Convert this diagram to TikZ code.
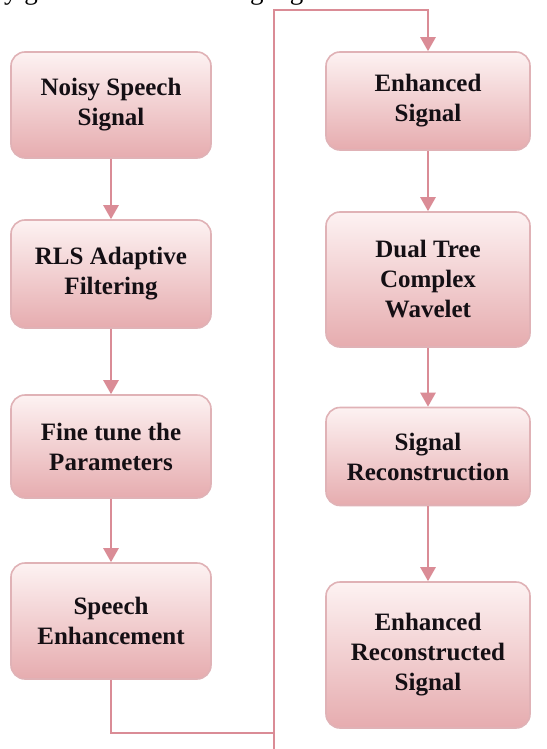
\documentclass[tikz,border=0pt]{standalone}
\usepackage{fontspec}
\setmainfont{Liberation Serif}
\usetikzlibrary{arrows.meta}
\definecolor{linkcol}{RGB}{218,140,150}
\definecolor{edgecol}{RGB}{224,178,182}
\definecolor{shadetop}{RGB}{253,242,242}
\definecolor{shadebot}{RGB}{230,172,175}
\definecolor{inkcol}{RGB}{20,15,20}
\tikzset{
  stage/.style={draw=edgecol, line width=1.6pt, rounded corners=14pt,
    top color=shadetop, bottom color=shadebot, text=inkcol,
    align=center, inner sep=0pt,
    font=\bfseries\fontsize{25}{30}\selectfont},
  leftstage/.style={stage, minimum width=200pt},
  rightstage/.style={stage, minimum width=204pt},
  link/.style={draw=linkcol, line width=2.6pt},
  arrowlink/.style={link, -{Triangle[width=15pt,length=14pt]}},
}
\begin{document}
\begin{tikzpicture}[x=1pt,y=-1pt]
  \useasboundingbox (0,0) rectangle (546,749);
  \clip (0,0) rectangle (546,749);
  \fill[white] (0,0) rectangle (546,749);

  % end of the running text line above the chart
  \node[anchor=base west, inner sep=0pt, font=\fontsize{27}{32}\selectfont]
    (runon) at (4,-0.5) {y given in the following algorithm};

  % left column
  \node[leftstage, minimum height=106pt] (noisy)   at (111,105)   {Noisy Speech\\Signal};
  \node[leftstage, minimum height=108pt] (rls)     at (111,274)   {RLS Adaptive\\Filtering};
  \node[leftstage, minimum height=103pt] (tune)    at (111,446.5) {Fine tune the\\Parameters};
  \node[leftstage, minimum height=116pt] (enh)     at (111,621)   {Speech\\Enhancement};

  % right column
  \node[rightstage, minimum height=98pt]  (esig)   at (428,101)   {Enhanced\\Signal};
  \node[rightstage, minimum height=135pt] (dtcw)   at (428,279.5) {Dual Tree\\Complex\\Wavelet};
  \node[rightstage, minimum height=98pt]  (recon)  at (428,456.5) {Signal\\Reconstruction};
  \node[rightstage, minimum height=146pt] (final)  at (428,655)   {Enhanced\\Reconstructed\\Signal};

  % crossover route between the columns
  \coordinate (joinpt) at (274,733);
  \coordinate (lowend) at (274,749);
  \coordinate (highpt) at (274,10);

  \draw[arrowlink] (noisy) -- (rls);
  \draw[arrowlink] (rls) -- (tune);
  \draw[arrowlink] (tune) -- (enh);
  \draw[link] (enh.south) |- (joinpt);
  \draw[arrowlink] (lowend) -- (highpt) -| (esig.north);
  \draw[arrowlink] (esig) -- (dtcw);
  \draw[arrowlink] (dtcw) -- (recon);
  \draw[arrowlink] (recon) -- (final);
\end{tikzpicture}
\end{document}
